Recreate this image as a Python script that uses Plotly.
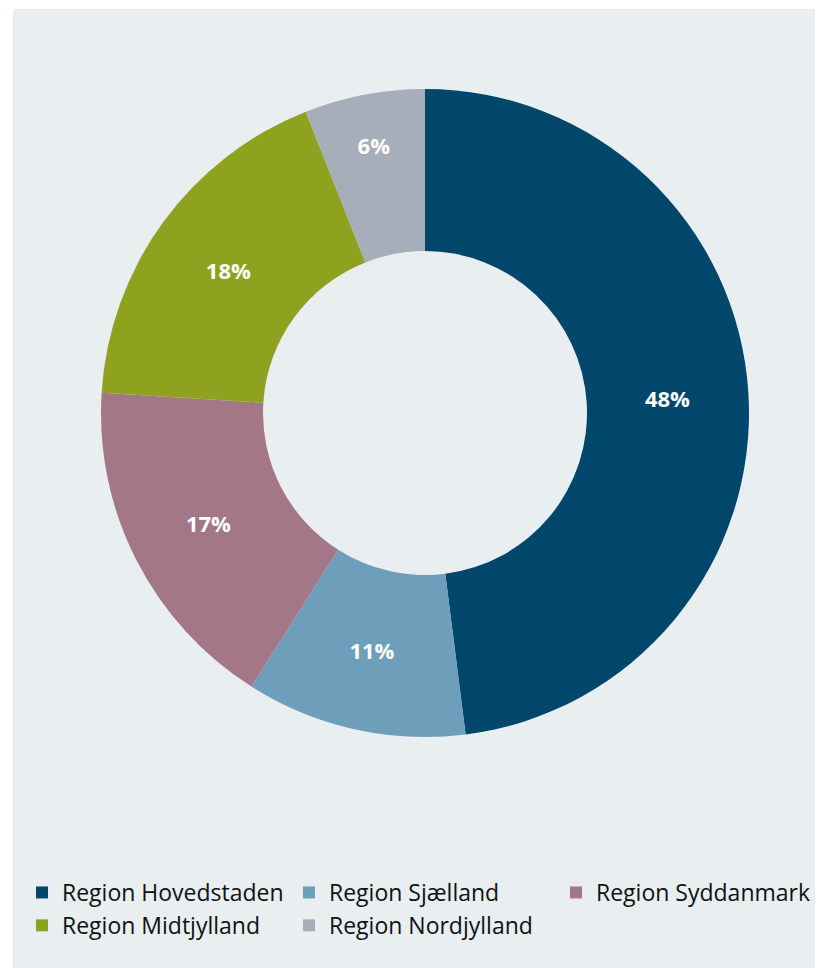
import plotly.graph_objects as go

# Andel fordelt på regioner (pct.)
regions = ["Region Hovedstaden", "Region Sjælland", "Region Syddanmark",
           "Region Midtjylland", "Region Nordjylland"]
shares = [48, 11, 17, 18, 6]
colors = ["#00476B", "#6E9FBA", "#A47786", "#8FA220", "#A6AEB9"]

# the page body adds an 8px margin, so the figure is 8px smaller
W, H = 815, 960
bg = "#E9EEF1"

fig = go.Figure()

fig.add_trace(go.Pie(
    labels=regions,
    values=shares,
    marker=dict(colors=colors, line=dict(width=0)),
    hole=0.5,
    sort=False,
    direction="clockwise",
    rotation=0,
    texttemplate="%{value}%",
    textposition="inside",
    insidetextorientation="horizontal",
    textfont=dict(family="Open Sans", size=22, color="white", weight="bold"),
    domain=dict(x=[93 / W, 741 / W], y=[(H - 729) / H, (H - 81) / H]),
    hovertemplate="%{label}: %{value}%<extra></extra>",
))

fig.update_layout(
    width=W,
    height=H,
    margin=dict(l=0, r=0, t=0, b=0),
    paper_bgcolor="white",
    font=dict(family="Open Sans, sans-serif", size=23, color="#111111"),
    legend=dict(
        orientation="h",
        x=14 / W, xanchor="left",
        y=(H - 901) / H, yanchor="middle",
        bgcolor="rgba(0,0,0,0)",
        entrywidth=222, entrywidthmode="pixels",
        font=dict(size=23),
        traceorder="normal",
    ),
    shapes=[dict(
        type="rect", xref="paper", yref="paper",
        x0=5 / W, x1=1, y0=0, y1=(H - 1) / H,
        fillcolor=bg, line=dict(width=0), layer="below",
    )],
)

fig.write_html("out.html")
